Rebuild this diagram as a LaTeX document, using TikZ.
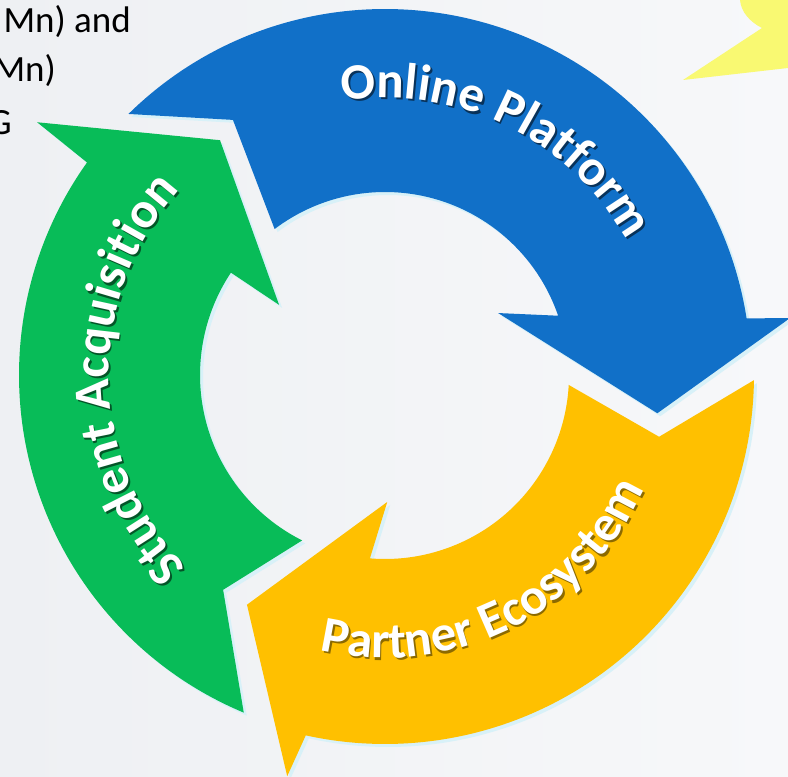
\documentclass[tikz,border=0pt]{standalone}
\usepackage{fontspec}
\newfontfamily\carlito{Carlito}
\usetikzlibrary{decorations.text}
\definecolor{bgl}{RGB}{238,240,243}
\definecolor{bgr}{RGB}{247,248,250}
\definecolor{pblue}{RGB}{17,112,200}
\definecolor{pgreen}{RGB}{8,188,88}
\definecolor{pyellow}{RGB}{255,192,0}
\definecolor{pglow}{RGB}{216,241,248}
\definecolor{plemon}{RGB}{249,249,114}
\newcommand\lblW{\carlito\bfseries\fontsize{51}{53}\selectfont\color{white}}
\newcommand\lblS[1]{\carlito\bfseries\fontsize{51}{53}\selectfont\color{#1}}
\newcommand\arrowBlue[1]{\fill[#1] (134.5:366) arc[start angle=134.5,end angle=8.9,radius=366] -- (8.0:409) -- (-8:275) -- (28.7:129) -- (18.9:183) arc[start angle=18.9,end angle=127.1,radius=183] -- (120.8:297) -- cycle;}
\newcommand\arrowYellow[1]{\fill[#1] (-0.8:369) arc[start angle=-0.8,end angle=-102.4,radius=369] -- (-103.7:413) -- (-121:268) -- (-89:127) -- (-94.7:184) arc[start angle=-94.7,end angle=-3.1,radius=184] -- (-12.7:281) -- cycle;}
\newcommand\arrowGreen[1]{\fill[#1] (247.3:366) arc[start angle=247.3,end angle=144.5,radius=366] -- (144:430) -- (125.1:287) -- (146.5:127) -- (146.4:185) arc[start angle=146.4,end angle=243.4,radius=185] -- (233:269) -- cycle;}
\begin{document}
\begin{tikzpicture}[x=1pt,y=1pt,
  toptext/.style={anchor=base east,inner sep=0pt,font=\carlito\fontsize{37}{40}\selectfont,text=black}]
\useasboundingbox (0,0) rectangle (788,777);
\clip (0,0) rectangle (788,777);
\shade[left color=bgl,right color=bgr] (0,0) rectangle (788,777);
% partial text at top left
\node[toptext] (t1) at (131,744) {Mn) and};
\node[toptext] (t2) at (56,695) {Mn)};
\node[toptext] (t3) at (12,642) {G};
% partial shape at top right
\fill[plemon] (740,777) .. controls (741,765) and (750,755) .. (762,749) -- (683,697) -- (788,709) -- (788,777) -- cycle;
\begin{scope}[shift={(385,402)}]
  % glow outlines
  \arrowBlue{pglow,shift={(3,-3)}}
  \arrowYellow{pglow,shift={(3,-3)}}
  \arrowGreen{pglow,shift={(3,-3)}}
  % arrows
  \arrowBlue{pblue}
  \arrowYellow{pyellow}
  \arrowGreen{pgreen}
  % label shadows
  \path[shift={(1.8,-2.2)},decorate,decoration={text along path,text align=center,
    text={|\lblS{pblue!45!black}|Online Platform}}]
    (124:277) arc[start angle=124,end angle=4,radius=277];
  \path[shift={(1.8,-2.2)},decorate,decoration={text along path,text align=center,
    text={|\lblS{pgreen!45!black}|Student Acquisition}}]
    (241:276) arc[start angle=241,end angle=121,radius=276];
  \path[shift={(1.8,-2.2)},decorate,decoration={text along path,text align=center,
    text={|\lblS{pyellow!55!black}|Partner Ecosystem}}]
    (-123.5:283) arc[start angle=-123.5,end angle=-3.5,radius=283];
  % labels
  \path[decorate,decoration={text along path,text align=center,
    text={|\lblW|Online Platform}}]
    (124:277) arc[start angle=124,end angle=4,radius=277];
  \path[decorate,decoration={text along path,text align=center,
    text={|\lblW|Student Acquisition}}]
    (241:276) arc[start angle=241,end angle=121,radius=276];
  \path[decorate,decoration={text along path,text align=center,
    text={|\lblW|Partner Ecosystem}}]
    (-123.5:283) arc[start angle=-123.5,end angle=-3.5,radius=283];
\end{scope}
\end{tikzpicture}
\end{document}
